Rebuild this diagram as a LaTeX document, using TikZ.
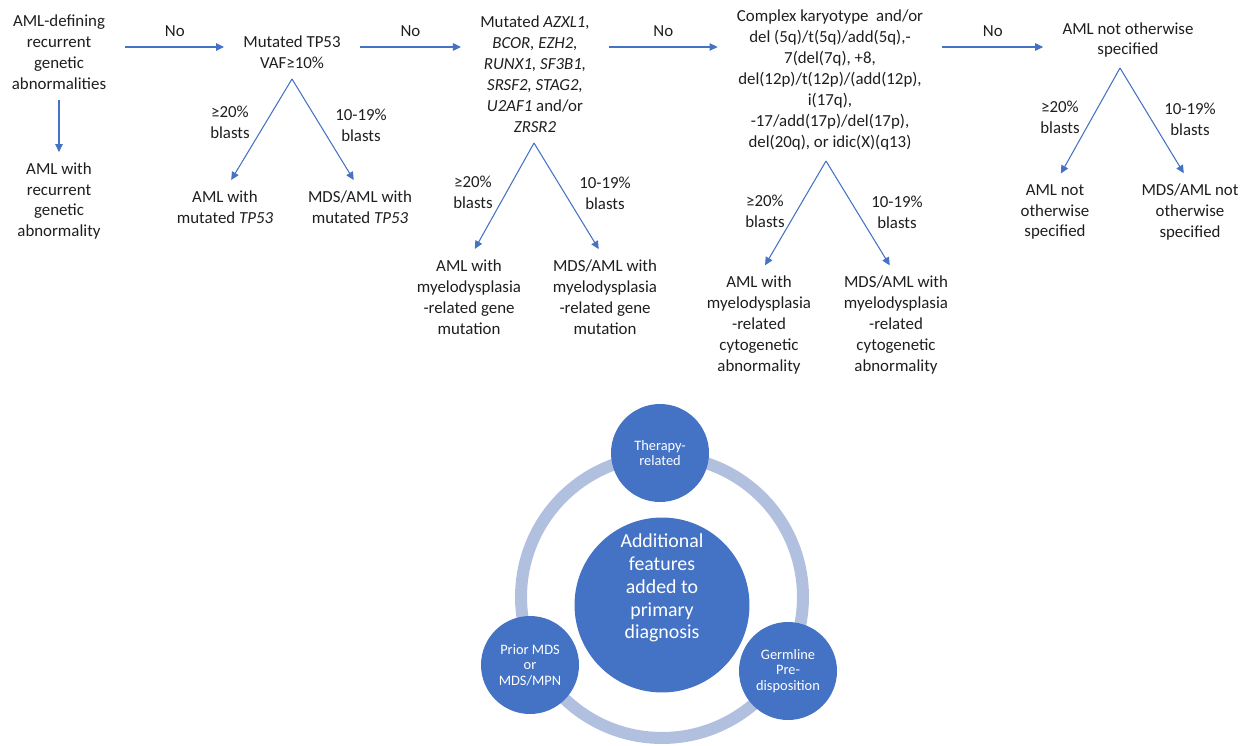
\documentclass[tikz,border=0pt]{standalone}
\usepackage{fontspec}
\setmainfont{Carlito}
\usepackage{tikz}
\usetikzlibrary{arrows.meta,positioning}

\definecolor{arrblue}{RGB}{68,114,196}
\definecolor{bubblue}{RGB}{68,114,196}
\definecolor{ringblue}{RGB}{178,192,224}
\definecolor{txtgray}{RGB}{30,30,30}

\begin{document}
\begin{tikzpicture}[
  x=0.02cm, y=-0.02cm,
  font=\fontsize{9.6pt}{11.9pt}\selectfont, text=txtgray,
  txt/.style={align=center, inner sep=0pt},
  lbl/.style={align=center, inner sep=0pt},
  arr/.style={-{Triangle[length=0.16cm,width=0.15cm]}, draw=arrblue, line width=0.6pt},
  harr/.style={arr, shorten <=0.38cm, shorten >=0.38cm},
  varr/.style={arr, shorten >=0.24cm},
  bub/.style={circle, fill=bubblue, text=white, align=center, inner sep=0pt, minimum size=1.96cm, font=\fontsize{8.2pt}{8.8pt}\selectfont},
  ring/.style={circle, draw=ringblue, line width=0.24cm, minimum size=5.64cm, inner sep=0pt}
]
  \useasboundingbox (0,0) rectangle (1250,746);

  % top row
  \node[txt] (def) at (59,52) {AML-defining\\recurrent\\genetic\\abnormalities};
  \node[txt, below=1.45cm of def] (rga) {AML with\\recurrent\\genetic\\abnormality};
  \node[txt] (tp53) at (292,52) {Mutated TP53\\VAF≥10\%};
  \node[txt] (azxl) at (535,74) {Mutated \textit{AZXL1,}\\\textit{BCOR, EZH2,}\\\textit{RUNX1, SF3B1,}\\\textit{SRSF2, STAG2,}\\\textit{U2AF1} and/or\\\textit{ZRSR2}};
  \node[txt] (cyto) at (830,80) {Complex karyotype\ \ and/or\\del (5q)/t(5q)/add(5q),-\\7(del(7q), +8,\\del(12p)/t(12p)/(add(12p),\\i(17q),\\-17/add(17p)/del(17p),\\del(20q), or idic(X)(q13)};
  \node[txt] (nos) at (1128,40) {AML not otherwise\\specified};

  \coordinate (row) at (0,47);
  \coordinate (tp53a) at (292,79);
  \coordinate (azxla) at (534,143);
  \coordinate (cytoa) at (826,161);
  \coordinate (nosa) at (1120,68);

  % leaves
  \node[txt] (tp53l) at (225,207) {AML with\\mutated \textit{TP53}};
  \node[txt] (tp53r) at (360,207) {MDS/AML with\\mutated \textit{TP53}};
  \node[txt] (azxll) at (469,297) {AML with\\myelodysplasia\\-related gene\\mutation};
  \node[txt] (azxlr) at (605,297) {MDS/AML with\\myelodysplasia\\-related gene\\mutation};
  \node[txt] (cytol) at (759,325) {AML with\\myelodysplasia\\-related\\cytogenetic\\abnormality};
  \node[txt] (cytor) at (896,325) {MDS/AML with\\myelodysplasia\\-related\\cytogenetic\\abnormality};
  \node[txt] (nosl) at (1055,212) {AML not\\otherwise\\specified};
  \node[txt] (nosr) at (1190,212) {MDS/AML not\\otherwise\\specified};

  % blast labels
  \node[lbl] (tp53g) at (230,122) {≥20\%\\blasts};
  \node[lbl] (tp53m) at (361,125) {10-19\%\\blasts};
  \node[lbl] (azxlg) at (473,192) {≥20\%\\blasts};
  \node[lbl] (azxlm) at (605,193) {10-19\%\\blasts};
  \node[lbl] (cytog) at (765,211) {≥20\%\\blasts};
  \node[lbl] (cytom) at (897,212) {10-19\%\\blasts};
  \node[lbl] (nosg) at (1060,117) {≥20\%\\blasts};
  \node[lbl] (nosm) at (1190,119) {10-19\%\\blasts};

  \draw[harr] (def.east |- row) -- node[above=0.2cm, inner sep=0pt] (no1) {No} (tp53.west |- row);
  \draw[harr] (tp53.east |- row) -- node[above=0.2cm, inner sep=0pt] (no2) {No} (azxl.west |- row);
  \draw[harr] (azxl.east |- row) -- node[above=0.2cm, inner sep=0pt] (no3) {No} (cyto.west |- row);
  \draw[harr] (cyto.east |- row) -- node[above=0.2cm, inner sep=0pt] (no4) {No} (nos.west |- row);
  \draw[arr, shorten <=0.2cm, shorten >=0.2cm] (def) -- (rga);

  \draw[varr] (tp53a) -- (tp53l.north);
  \draw[varr] (tp53a) -- (tp53r.north);
  \draw[varr] (azxla) -- (azxll.north);
  \draw[varr] (azxla) -- (azxlr.north);
  \draw[varr] (cytoa) -- (cytol.north);
  \draw[varr] (cytoa) -- (cytor.north);
  \draw[varr] (nosa) -- (nosl.north);
  \draw[varr] (nosa) -- (nosr.north);

  % additional features
  \node[ring] (ring) at (662,597) {};
  \node[bub, minimum size=3.5cm] (core) at (662,605) {};
  \node[text=white, align=center, inner sep=0pt, font=\fontsize{11.3pt}{13pt}\selectfont] (coret) at ([yshift=0.34cm]core.center) {Additional\\features\\added to\\primary\\diagnosis};
  \node[bub] (ther) at (660,453) {Therapy-\\related};
  \node[bub] (prior) at (530,665) {Prior MDS\\or\\MDS/MPN};
  \node[bub] (germ) at (788,671) {Germline\\Pre-\\disposition};
\end{tikzpicture}
\end{document}
